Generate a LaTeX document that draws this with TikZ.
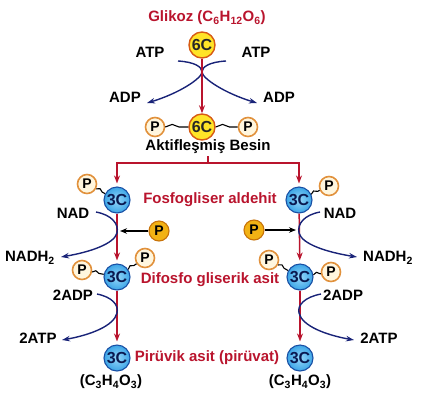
\documentclass[tikz,border=0pt]{standalone}
\usepackage{fontspec}
\setmainfont{Liberation Sans}
\usetikzlibrary{arrows.meta,decorations.pathmorphing}
\definecolor{dred}{RGB}{185,20,45}
\definecolor{dblue}{RGB}{25,35,120}
\definecolor{cyanf}{RGB}{60,165,230}
\definecolor{cyanl}{RGB}{150,215,250}
\definecolor{cyanb}{RGB}{25,80,165}
\definecolor{ctext}{RGB}{10,25,80}
\definecolor{yel}{RGB}{255,228,40}
\definecolor{orb}{RGB}{215,90,20}
\definecolor{cream}{RGB}{255,246,222}
\definecolor{porb}{RGB}{225,145,60}
\definecolor{pfree}{RGB}{242,178,20}
\definecolor{pfreeb}{RGB}{200,115,10}
\tikzset{
  lbl/.style={font=\fontsize{15}{18}\selectfont\bfseries, inner sep=0},
  rlbl/.style={lbl, text=dred},
  cthree/.style={circle, minimum size=26, inner sep=0, draw=cyanb, line width=1.1,
    inner color=cyanl, outer color=cyanf, text=ctext, font=\fontsize{16}{16}\selectfont\bfseries},
  csix/.style={circle, minimum size=26, inner sep=0, draw=orb, line width=1.4,
    fill=yel, text=black!85, font=\fontsize{16}{16}\selectfont\bfseries},
  pbound/.style={circle, minimum size=19, inner sep=0, draw=porb, line width=1.6,
    fill=cream, text=black, font=\fontsize{14}{14}\selectfont\bfseries},
  pfr/.style={circle, minimum size=20, inner sep=0, draw=pfreeb, line width=1.1,
    fill=pfree, text=black, font=\fontsize{14}{14}\selectfont\bfseries},
  redarr/.style={draw=dred, line width=1.5, -{Stealth[length=8pt,width=6pt]}},
  bluearr/.style={draw=dblue, line width=1.4, -{Stealth[length=8pt,width=5.5pt]}},
  blkarr/.style={draw=black, line width=1.3, -{Stealth[length=7pt,width=5.5pt]}},
  wig/.style={draw=black, line width=1.1, decorate, decoration={snake, amplitude=2.6, segment length=22}},
  wigs/.style={draw=black, line width=1.1, decorate, decoration={snake, amplitude=2, segment length=11}},
}
\begin{document}
\begin{tikzpicture}[x=1pt,y=-1pt]
\useasboundingbox (0,0) rectangle (422,400);
% top
\node[rlbl] (title) at (207,18) {Glikoz (C\textsubscript{6}H\textsubscript{12}O\textsubscript{6})};
\node[csix] (c6top) at (202,45) {6C};
\node[lbl] (atpL) at (150,52) {ATP};
\node[lbl] (atpR) at (256,52) {ATP};
\node[lbl] (adpL) at (125,97) {ADP};
\node[lbl] (adpR) at (279,97) {ADP};
\node[pbound] (pL) at (155,127) {P};
\node[csix] (c6m) at (202,127) {6C};
\node[pbound] (pR) at (248,127) {P};
\node[lbl] (besin) at (208,147) {Aktifleşmiş Besin};
\draw[wig] (pL) -- (c6m);
\draw[wig] (c6m) -- (pR);
\coordinate (tl) at (178,61);
\coordinate (tr) at (226,61);
\coordinate (el) at (147,103);
\coordinate (er) at (257,103);
\draw[bluearr] (tl) .. controls (195,62) and (202,67) .. (202,72) .. controls (202,78) and (180,93) .. (el);
\draw[bluearr] (tr) .. controls (209,62) and (202,67) .. (202,72) .. controls (202,78) and (224,93) .. (er);
\draw[redarr] (c6top) -- (c6m);
% junction
\coordinate (j) at (208,163);
\draw[dred, line width=1.5] (besin.south) ++(0,2) -- (j);
% left branch
\node[cthree] (a1) at (117,200) {3C};
\node[pbound] (pa1) at (87,184) {P};
\draw[wigs] (pa1) -- (a1);
\node[rlbl] (fos) at (210,200) {Fosfogliser aldehit};
\node[lbl] (nadL) at (73,213) {NAD};
\node[lbl] (nadhL) at (30,258) {NADH\textsubscript{2}};
\node[pfr] (pfL) at (159,231) {P};
\node[cthree] (b1) at (117,277) {3C};
\node[pbound] (pb1) at (82,270) {P};
\node[pbound] (pb2) at (145,258) {P};
\draw[wigs] (pb1) -- (b1);
\draw[wigs] (b1) -- (pb2);
\node[rlbl] (dif) at (210,280) {Difosfo gliserik asit};
\node[lbl] (adp2L) at (73,295) {2ADP};
\node[lbl] (atp2L) at (38,338) {2ATP};
\node[cthree] (d1) at (117,358) {3C};
\node[rlbl] (pir) at (207,358) {Pirüvik asit (pirüvat)};
\node[lbl] (fL) at (111,382) {(C\textsubscript{3}H\textsubscript{4}O\textsubscript{3})};
% right branch
\node[cthree] (a2) at (299,200) {3C};
\node[pbound] (pa2) at (329,186) {P};
\draw[wigs] (a2) -- (pa2);
\node[lbl] (nadR) at (340,213) {NAD};
\node[lbl] (nadhR) at (388,258) {NADH\textsubscript{2}};
\node[pfr] (pfR) at (254,230) {P};
\node[cthree] (b2) at (300,277) {3C};
\node[pbound] (pc1) at (269,260) {P};
\node[pbound] (pc2) at (331,272) {P};
\draw[wigs] (pc1) -- (b2);
\draw[wigs] (b2) -- (pc2);
\node[lbl] (adp2R) at (343,295) {2ADP};
\node[lbl] (atp2R) at (379,338) {2ATP};
\node[cthree] (d2) at (300,358) {3C};
\node[lbl] (fR) at (300,382) {(C\textsubscript{3}H\textsubscript{4}O\textsubscript{3})};
% red connectors
\draw[redarr, shorten >=3pt] (j) -| (a1);
\draw[redarr, shorten >=3pt] (j) -| (a2);
\draw[redarr, shorten >=3pt] (a1) -- (b1);
\draw[redarr, shorten >=3pt] (a2) -- (b2);
\draw[redarr, shorten >=3pt] (b1) -- (d1);
\draw[redarr, shorten >=3pt] (b2) -- (d2);
% free phosphate arrows
\draw[blkarr, shorten >=3pt] (pfL) -- (pfL -| a1);
\draw[blkarr, shorten >=3pt] (pfR) -- (pfR -| a2);
% blue curves branches
\coordinate (n1s) at (96,212);
\coordinate (n1e) at (61,257);
\draw[bluearr] (n1s) .. controls (112,215) and (119,224) .. (117,233) .. controls (114,244) and (90,252) .. (n1e);
\coordinate (n2s) at (320,212);
\coordinate (n2e) at (357,257);
\draw[bluearr] (n2s) .. controls (304,215) and (297,224) .. (299,233) .. controls (302,244) and (326,252) .. (n2e);
\coordinate (m1s) at (97,294);
\coordinate (m1e) at (62,340);
\draw[bluearr] (m1s) .. controls (112,297) and (119,305) .. (117,313) .. controls (114,326) and (90,335) .. (m1e);
\coordinate (m2s) at (321,294);
\coordinate (m2e) at (354,340);
\draw[bluearr] (m2s) .. controls (305,297) and (297,305) .. (299,313) .. controls (302,326) and (326,335) .. (m2e);
\end{tikzpicture}
\end{document}
